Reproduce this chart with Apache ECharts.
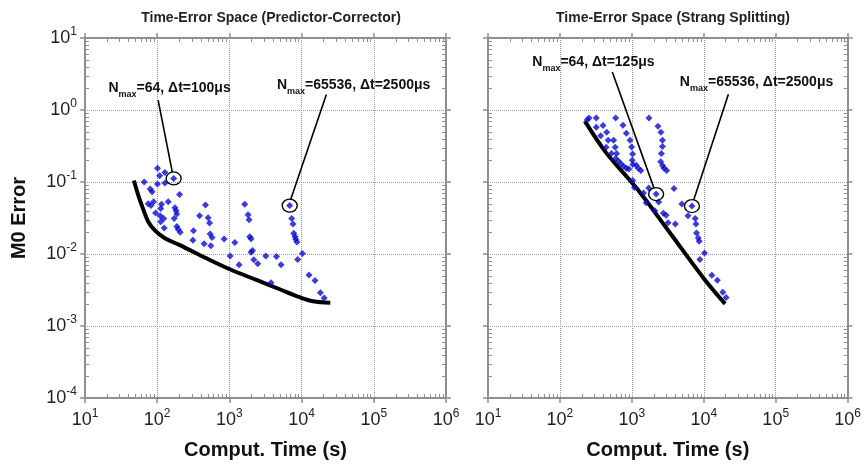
<!DOCTYPE html>
<html>
<head>
<meta charset="utf-8">
<script src="https://cdn.jsdelivr.net/npm/echarts@6/dist/echarts.min.js"></script>
<style>
  html, body { margin: 0; padding: 0; background: #fff; }
  #chart { width: 864px; height: 466px; }
</style>
</head>
<body>
<div id="chart"></div>
<script>
// points: computation time (s) / M0 error
var pcTime = [101, 108, 128, 169, 66, 101, 128, 80, 85, 204, 142, 89, 75, 82, 115, 112, 176, 183, 187, 172,
              95, 110, 123, 112, 467, 386, 507, 531, 125, 187, 195, 208, 318, 541, 576, 312, 447, 553, 845, 1188,
              1023, 1633, 1815, 1873, 1914, 1995, 2088, 1995, 2174, 2470, 1362, 3187, 4480, 5190, 3775, 6843, 7295, 7600, 7780, 8110,
              8280, 8630, 10260, 8830, 12650, 15320, 18200, 20550];
var pcError = [0.155, 0.122, 0.136, 0.112, 0.100, 0.094, 0.097, 0.080, 0.073, 0.067, 0.053, 0.053, 0.050, 0.047, 0.049, 0.043, 0.044, 0.040, 0.036, 0.031,
               0.037, 0.034, 0.031, 0.028, 0.048, 0.034, 0.032, 0.027, 0.023, 0.024, 0.022, 0.020, 0.021, 0.019, 0.017, 0.0155, 0.0139, 0.0130, 0.0161, 0.0145,
               0.0094, 0.049, 0.035, 0.030, 0.0174, 0.0163, 0.0112, 0.0106, 0.0083, 0.0073, 0.0071, 0.0094, 0.0092, 0.0071, 0.0040, 0.047, 0.031, 0.026, 0.0194, 0.0175,
               0.0160, 0.0147, 0.0102, 0.0084, 0.0051, 0.0043, 0.0029, 0.00245];

var ssTime = [239, 254, 320, 595, 1729, 2303, 751, 397, 320, 447, 369, 837, 2535, 469, 558, 944, 2660, 440, 586, 990,
              2660, 520, 614, 1023, 2575, 595, 649, 704, 768, 839, 909, 1013, 1033, 1150, 1226, 1331, 2517, 2683, 2805, 3049,
              1028, 1089, 1452, 1718, 2174, 3857, 1582, 2362, 4946, 6843, 2080, 2742, 2992, 6026, 7600, 7780, 3187, 4020, 7925, 8370,
              8630, 10230, 8830, 12940, 15460, 18370, 20420];
var ssError = [0.729, 0.777, 0.775, 0.775, 0.775, 0.596, 0.615, 0.607, 0.577, 0.492, 0.440, 0.477, 0.489, 0.381, 0.381, 0.381, 0.381, 0.303, 0.303, 0.307,
               0.310, 0.249, 0.248, 0.244, 0.248, 0.212, 0.195, 0.179, 0.165, 0.155, 0.151, 0.200, 0.175, 0.171, 0.155, 0.145, 0.191, 0.168, 0.155, 0.145,
               0.1045, 0.0841, 0.0702, 0.0823, 0.0680, 0.0815, 0.0515, 0.0526, 0.0494, 0.0463, 0.0399, 0.0367, 0.0344, 0.0339, 0.0311, 0.0261, 0.0272, 0.0261, 0.0196, 0.0167,
               0.0150, 0.0103, 0.00839, 0.00507, 0.00432, 0.00294, 0.00248];

// best-front curves
var pcFrontTime = [47.6, 54.6, 63.4, 75.1, 92.9, 128, 206, 482, 1013, 2370, 4980, 9410, 14380, 25000];
var pcFrontError = [0.105, 0.0658, 0.0430, 0.0281, 0.0213, 0.0165, 0.0133, 0.00871, 0.00614, 0.00436, 0.00324, 0.00251, 0.00221, 0.00211];
var ssFrontTime = [222, 443, 1161, 3320, 10130, 19770];
var ssFrontError = [0.70, 0.252, 0.0823, 0.0202, 0.0045, 0.00203];

// annotations: circled point, label anchor, leader line start/end
var pcNoteText = ['=64, \u0394t=100\u03bcs', '=65536, \u0394t=2500\u03bcs'];
var pcNoteTarget = [[169, 0.112], [6843, 0.047]];
var pcNoteLabel = [[20.8, 2.0], [4480, 2.21]];
var pcNoteLineFrom = [[103, 1.37], [22030, 1.64]];
var pcNoteLineTo = [[162, 0.137], [7060, 0.057]];

var ssNoteText = ['=64, \u0394t=125\u03bcs', '=65536, \u0394t=2500\u03bcs'];
var ssNoteTarget = [[2174, 0.068], [6843, 0.0463]];
var ssNoteLabel = [[40.6, 4.6], [4570, 2.43]];
var ssNoteLineFrom = [[535, 3.38], [21980, 1.66]];
var ssNoteLineTo = [[2030, 0.0822], [7240, 0.0561]];

var xDecades = [10, 100, 1000, 10000, 100000];
var yDecades = [1e-4, 1e-3, 1e-2, 1e-1, 1];
var minorSteps = [2, 3, 4, 5, 6, 7, 8, 9];

var FONT = 'Liberation Sans, Arial, sans-serif';
var AXIS_GRAY = '#8f8f8f';

function zip(a, b) {
    return a.map(function (v, i) { return [v, b[i]]; });
}

function powLabel(v) {
    var e = Math.round(Math.log(v) / Math.LN10);
    return '{b|10}{s|' + e + '}';
}

var powRich = {
    b: { fontSize: 18, fontFamily: FONT, color: '#222', lineHeight: 24 },
    s: { fontSize: 12, fontFamily: FONT, color: '#222', verticalAlign: 'top', lineHeight: 15 }
};

function xAxes(gi) {
    var base = {
        type: 'log', logBase: 10, min: 10, max: 1e6, gridIndex: gi,
        axisLine: { show: true, onZero: false, lineStyle: { color: AXIS_GRAY, width: 2 } },
        axisTick: { show: true, inside: false, length: 5, lineStyle: { color: AXIS_GRAY, width: 1.5 } }
    };
    return [
        Object.assign({}, base, {
            position: 'bottom',
            name: 'Comput. Time (s)', nameLocation: 'middle', nameGap: 42,
            nameTextStyle: { fontSize: 20, fontWeight: 'bold', fontFamily: FONT, color: '#111' },
            axisLabel: { margin: 10, formatter: powLabel, rich: powRich },
            splitLine: { show: true, lineStyle: { type: 'dotted', color: '#9a9a9a', width: 1 } }
        }),
        Object.assign({}, base, {
            position: 'top', axisLabel: { show: false }, splitLine: { show: false }
        })
    ];
}

function yAxes(gi, withLabels) {
    var base = {
        type: 'log', logBase: 10, min: 1e-4, max: 10, gridIndex: gi,
        axisLine: { show: true, onZero: false, lineStyle: { color: AXIS_GRAY, width: 2 } },
        axisTick: { show: true, inside: false, length: 5, lineStyle: { color: AXIS_GRAY, width: 1.5 } }
    };
    var left = Object.assign({}, base, {
        position: 'left',
        axisLabel: { show: withLabels, margin: 8, formatter: powLabel, rich: powRich },
        splitLine: { show: true, lineStyle: { type: 'dotted', color: '#9a9a9a', width: 1 } }
    });
    if (withLabels) {
        left.name = 'M0 Error';
        left.nameLocation = 'middle';
        left.nameGap = 56;
        left.nameTextStyle = { fontSize: 20, fontWeight: 'bold', fontFamily: FONT, color: '#111' };
    }
    return [
        left,
        Object.assign({}, base, { position: 'right', axisLabel: { show: false }, splitLine: { show: false } })
    ];
}

// short inward log ticks at 2..9 of each decade, on all four sides
function minorTickSeries(gi) {
    return {
        type: 'custom', xAxisIndex: gi * 2, yAxisIndex: gi * 2, silent: true, clip: false, z: 5,
        data: zip(xDecades, yDecades),
        renderItem: function (params, api) {
            var cs = params.coordSys;
            var dx = api.value(0), dy = api.value(1);
            var kids = [];
            var st = { stroke: AXIS_GRAY, lineWidth: 1 };
            minorSteps.forEach(function (m) {
                var px = Math.round(api.coord([dx * m, 1])[0]) + 0.5;
                var py = Math.round(api.coord([100, dy * m])[1]) + 0.5;
                var b = cs.y + cs.height, r = cs.x + cs.width;
                kids.push({ type: 'line', shape: { x1: px, y1: b, x2: px, y2: b - 4 }, style: st });
                kids.push({ type: 'line', shape: { x1: px, y1: cs.y, x2: px, y2: cs.y + 4 }, style: st });
                kids.push({ type: 'line', shape: { x1: cs.x, y1: py, x2: cs.x + 4, y2: py }, style: st });
                kids.push({ type: 'line', shape: { x1: r, y1: py, x2: r - 4, y2: py }, style: st });
            });
            return { type: 'group', children: kids };
        }
    };
}

var noteRich = {
    n: { fontSize: 14, fontWeight: 'bold', fontFamily: FONT, color: '#111' },
    sub: { fontSize: 9, fontWeight: 'bold', fontFamily: FONT, color: '#111', padding: [12, 0, 0, 0] }
};

function noteMarks(text, target, label, from, to) {
    var pts = [];
    target.forEach(function (t) {
        pts.push({
            coord: t, symbol: 'circle', symbolSize: [15, 13],
            itemStyle: { color: 'rgba(0,0,0,0)', borderColor: '#000', borderWidth: 1.3 },
            label: { show: false }
        });
    });
    label.forEach(function (l, i) {
        pts.push({
            coord: l, symbol: 'circle', symbolSize: 1,
            itemStyle: { color: 'rgba(0,0,0,0)' },
            label: {
                show: true, position: 'right', distance: 0,
                formatter: '{n|N}{sub|max}{n|' + text[i] + '}', rich: noteRich
            }
        });
    });
    var lines = from.map(function (f, i) {
        return [{ coord: f }, { coord: to[i] }];
    });
    return {
        markPoint: { silent: true, data: pts },
        markLine: {
            silent: true, symbol: ['none', 'none'], label: { show: false },
            lineStyle: { color: '#000', width: 1.6, type: 'solid' },
            data: lines
        }
    };
}

function panel(gi, time, err, fTime, fErr, notes) {
    var sc = Object.assign({
        type: 'scatter', xAxisIndex: gi * 2, yAxisIndex: gi * 2, z: 3,
        symbol: 'diamond', symbolSize: [7, 7],
        itemStyle: { color: '#0a0ad6' },
        data: zip(time, err)
    }, notes);
    var ln = {
        type: 'line', xAxisIndex: gi * 2, yAxisIndex: gi * 2, z: 2,
        showSymbol: false, smooth: 0.35,
        lineStyle: { color: '#000', width: 4 },
        data: zip(fTime, fErr)
    };
    return [ln, sc, minorTickSeries(gi)];
}

var chart = echarts.init(document.getElementById('chart'));
var option = {
    backgroundColor: '#fff',
    animation: false,
    title: [
        { text: 'Time-Error Space (Predictor-Corrector)', left: 266, top: 6, textAlign: 'center',
          textStyle: { fontSize: 14, fontWeight: 'bold', fontFamily: FONT, color: '#222' } },
        { text: 'Time-Error Space (Strang Splitting)', left: 668, top: 6, textAlign: 'center',
          textStyle: { fontSize: 14, fontWeight: 'bold', fontFamily: FONT, color: '#222' } }
    ],
    grid: [
        { left: 85, top: 38, width: 361, height: 360 },
        { left: 488, top: 38, width: 361, height: 360 }
    ],
    xAxis: xAxes(0).concat(xAxes(1)),
    yAxis: yAxes(0, true).concat(yAxes(1, false)),
    series: panel(0, pcTime, pcError, pcFrontTime, pcFrontError,
                  noteMarks(pcNoteText, pcNoteTarget, pcNoteLabel, pcNoteLineFrom, pcNoteLineTo))
        .concat(panel(1, ssTime, ssError, ssFrontTime, ssFrontError,
                  noteMarks(ssNoteText, ssNoteTarget, ssNoteLabel, ssNoteLineFrom, ssNoteLineTo)))
};
chart.setOption(option);
</script>
</body>
</html>
